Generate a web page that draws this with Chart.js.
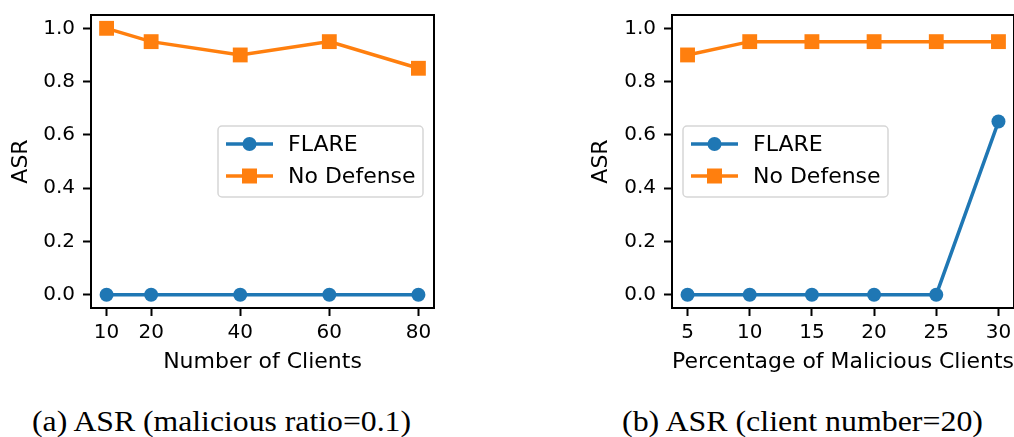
<!DOCTYPE html>
<html>
<head>
<meta charset="utf-8">
<script src="https://cdn.jsdelivr.net/npm/chart.js@4.4.0/dist/chart.umd.min.js"></script>
<style>
html, body { margin: 0; padding: 0; background: #fff; overflow: hidden; width: 1014px; height: 437px; }
.box { position: absolute; top: 0; height: 380px; }
.cap { position: absolute; top: 406.7px; line-height: 29px; font-family: "Liberation Serif", serif; font-size: 29px; white-space: nowrap; transform-origin: 0 0; color: #000; }
</style>
</head>
<body>
<div class="box" style="left:0;width:450px"><canvas id="c1"></canvas></div>
<div class="box" style="left:560px;width:480px"><canvas id="c2"></canvas></div>
<div class="cap" id="cap1" style="left:31.7px">(a) ASR (malicious ratio=0.1)</div>
<div class="cap" id="cap2" style="left:621.7px">(b) ASR (client number=20)</div>
<script>
// data
const clients = [10, 20, 40, 60, 80];
const flareA = [0, 0, 0, 0, 0];
const noDefA = [1.0, 0.95, 0.9, 0.95, 0.85];

const malicious = [5, 10, 15, 20, 25, 30];
const flareB = [0, 0, 0, 0, 0, 0.65];
const noDefB = [0.9, 0.95, 0.95, 0.95, 0.95, 0.95];

const yTicks = [0, 0.2, 0.4, 0.6, 0.8, 1.0];
const seriesNames = ['FLARE', 'No Defense'];

const blue = '#1f77b4', orange = '#ff7f0e';

Chart.defaults.font.family = 'DejaVu Sans';
Chart.defaults.font.size = 20;
Chart.defaults.color = '#000';

// full box around the plot area
const frame = {
  id: 'frame',
  afterDatasetsDraw(chart) {
    const a = chart.chartArea, ctx = chart.ctx;
    ctx.save();
    ctx.strokeStyle = '#000';
    ctx.lineWidth = 2;
    ctx.strokeRect(a.left, a.top, a.right - a.left, a.bottom - a.top);
    ctx.restore();
  }
};

// matplotlib style legend (line with marker)
const mplLegend = {
  id: 'mplLegend',
  afterDraw(chart, args, opts) {
    const ctx = chart.ctx, a = chart.chartArea;
    const x = a.left + opts.dx, y = a.top + opts.dy, w = 205, h = 71, r = 4;
    ctx.save();
    ctx.beginPath();
    ctx.moveTo(x + r, y);
    ctx.arcTo(x + w, y, x + w, y + h, r);
    ctx.arcTo(x + w, y + h, x, y + h, r);
    ctx.arcTo(x, y + h, x, y, r);
    ctx.arcTo(x, y, x + w, y, r);
    ctx.closePath();
    ctx.fillStyle = 'rgba(255,255,255,0.8)';
    ctx.fill();
    ctx.strokeStyle = '#d6d6d6';
    ctx.lineWidth = 1.5;
    ctx.stroke();
    chart.data.datasets.forEach((ds, i) => {
      const cy = y + 18 + i * 32;
      ctx.strokeStyle = ds.borderColor;
      ctx.lineWidth = 3.5;
      ctx.beginPath();
      ctx.moveTo(x + 8, cy);
      ctx.lineTo(x + 55, cy);
      ctx.stroke();
      ctx.fillStyle = ds.backgroundColor;
      if (ds.pointStyle === 'rect') {
        ctx.fillRect(x + 31.5 - 7.5, cy - 7.5, 15, 15);
      } else {
        ctx.beginPath();
        ctx.arc(x + 31.5, cy, 7, 0, Math.PI * 2);
        ctx.fill();
      }
      ctx.fillStyle = '#000';
      ctx.font = '22px "DejaVu Sans"';
      ctx.textBaseline = 'middle';
      ctx.fillText(ds.label, x + 70, cy + 1);
    });
    ctx.restore();
  }
};

function makeChart(id, xs, flare, noDef, xmin, xmax, xTitle, yW, yTitlePad, padRight, legendAt) {
  return new Chart(document.getElementById(id), {
    type: 'line',
    data: {
      datasets: [
        {
          label: seriesNames[0],
          data: xs.map((v, i) => ({ x: v, y: flare[i] })),
          borderColor: blue, backgroundColor: blue,
          borderWidth: 3.5, pointStyle: 'circle', pointRadius: 7,
          pointBorderWidth: 0, tension: 0, clip: false
        },
        {
          label: seriesNames[1],
          data: xs.map((v, i) => ({ x: v, y: noDef[i] })),
          borderColor: orange, backgroundColor: orange,
          borderWidth: 3.5, pointStyle: 'rect', pointRadius: 10.5,
          pointBorderWidth: 0, tension: 0, clip: false
        }
      ]
    },
    options: {
      responsive: true,
      maintainAspectRatio: false,
      animation: false,
      events: [],
      layout: { padding: { top: 15, right: padRight, left: 0, bottom: 0 } },
      plugins: {
        legend: { display: false },
        tooltip: { enabled: false },
        mplLegend: legendAt
      },
      scales: {
        x: {
          type: 'linear', min: xmin, max: xmax,
          afterBuildTicks: s => { s.ticks = xs.map(v => ({ value: v })); },
          afterFit: s => { s.height = 72; s.paddingLeft = 0; s.paddingRight = 0; },
          ticks: { padding: 5, callback: v => String(v), maxRotation: 0, autoSkip: false },
          grid: { drawOnChartArea: false, drawTicks: true, tickLength: 8, tickColor: '#000', tickWidth: 2 },
          border: { display: true, color: '#000', width: 2 },
          title: { display: true, text: xTitle, font: { size: 22 }, padding: { top: 0, bottom: 5 } }
        },
        y: {
          min: -0.05, max: 1.05,
          afterBuildTicks: s => { s.ticks = yTicks.map(v => ({ value: v })); },
          afterFit: s => { s.width = yW; s.paddingTop = 0; s.paddingBottom = 0; },
          ticks: { padding: 8, callback: v => v.toFixed(1) },
          grid: { drawOnChartArea: false, drawTicks: true, tickLength: 8, tickColor: '#000', tickWidth: 2 },
          border: { display: true, color: '#000', width: 2 },
          title: { display: true, text: 'ASR', font: { size: 22 }, padding: { top: yTitlePad, bottom: 0 } }
        }
      }
    },
    plugins: [frame, mplLegend]
  });
}

makeChart('c1', clients, flareA, noDefA, 6.5, 83.5, 'Number of Clients', 91, 8, 16, { dx: 127, dy: 111 });
makeChart('c2', malicious, flareB, noDefB, 3.75, 31.25, 'Percentage of Malicious Clients', 112, 28, 26, { dx: 11, dy: 111 });

// fit captions to the widths seen in the figure
[['cap1', 379], ['cap2', 361]].forEach(([id, target]) => {
  const el = document.getElementById(id);
  const w = el.getBoundingClientRect().width;
  el.style.transform = 'scaleX(' + (target / w) + ')';
});
</script>
</body>
</html>
